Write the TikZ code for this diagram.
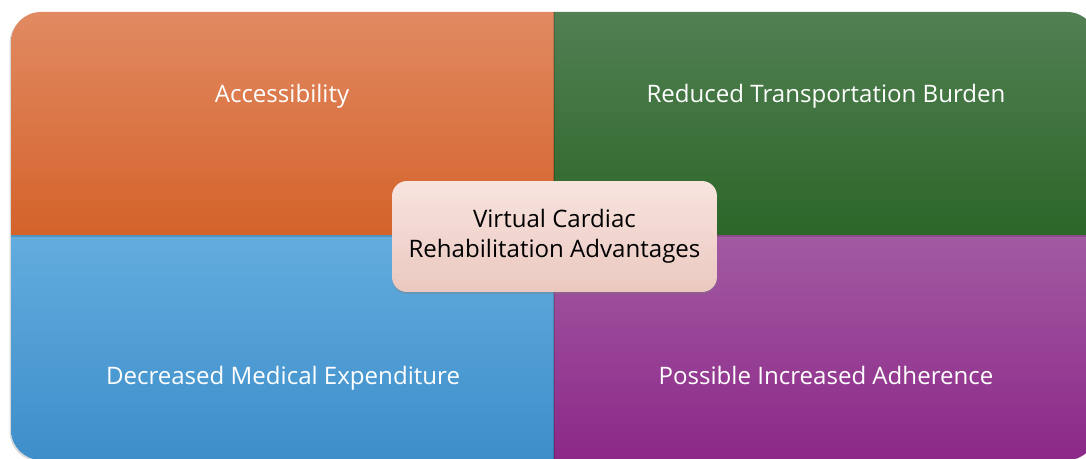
\documentclass[tikz,border=0pt]{standalone}
\usepackage{fontspec}
\setmainfont{Open Sans}
\usetikzlibrary{shadows}

\definecolor{accTop}{RGB}{225,138,98}
\definecolor{accBot}{RGB}{212,98,42}
\definecolor{trnTop}{RGB}{82,128,84}
\definecolor{trnBot}{RGB}{44,102,40}
\definecolor{expTop}{RGB}{98,172,222}
\definecolor{expBot}{RGB}{62,142,202}
\definecolor{adhTop}{RGB}{162,90,162}
\definecolor{adhBot}{RGB}{140,40,136}
\definecolor{midTop}{RGB}{248,228,222}
\definecolor{midBot}{RGB}{234,200,192}

\tikzset{
    quadlabel/.style={text=white, anchor=base, font=\fontsize{13.7}{17}\selectfont},
    centerbox/.style={rounded corners=0.3cm, minimum width=6.5cm, minimum height=2.22cm,
        top color=midTop, bottom color=midBot, align=center,
        font=\fontsize{13.7}{17}\selectfont,
        drop shadow={shadow xshift=0pt, shadow yshift=-1.2pt, opacity=0.35}}
}

\begin{document}
\begin{tikzpicture}[x=0.02cm, y=-0.02cm]
    \useasboundingbox (0,0) rectangle (1086,459);

    % outer frame shadow
    \fill[white, rounded corners=0.6cm, drop shadow={shadow xshift=-0.8pt, shadow yshift=-0.8pt, opacity=0.3}]
        (11,12) rectangle (1097,460);

    % four quadrants
    \begin{scope}
        \clip[rounded corners=0.6cm] (11,12) rectangle (1097,460);
        \shade[top color=accTop, bottom color=accBot] (11,12) rectangle (554,236);
        \shade[top color=trnTop, bottom color=trnBot] (554,12) rectangle (1097,236);
        \shade[top color=expTop, bottom color=expBot] (11,236) rectangle (554,460);
        \shade[top color=adhTop, bottom color=adhBot] (554,236) rectangle (1097,460);
        \draw[black, opacity=0.15, line width=0.6pt] (554,12) -- (554,460);
        \draw[black, opacity=0.15, line width=0.6pt] (11,236) -- (1097,236);
    \end{scope}

    \node[quadlabel] at (282, 103)  (access)    {Accessibility};
    \node[quadlabel] at (826, 103)  (transport) {Reduced Transportation Burden};
    \node[quadlabel] at (283, 384)  (expense)   {Decreased Medical Expenditure};
    \node[quadlabel] at (826, 384)  (adhere)    {Possible Increased Adherence};

    \node[centerbox] at (554.5, 236.5) (vcr) {Virtual Cardiac\\Rehabilitation Advantages};

\end{tikzpicture}
\end{document}
